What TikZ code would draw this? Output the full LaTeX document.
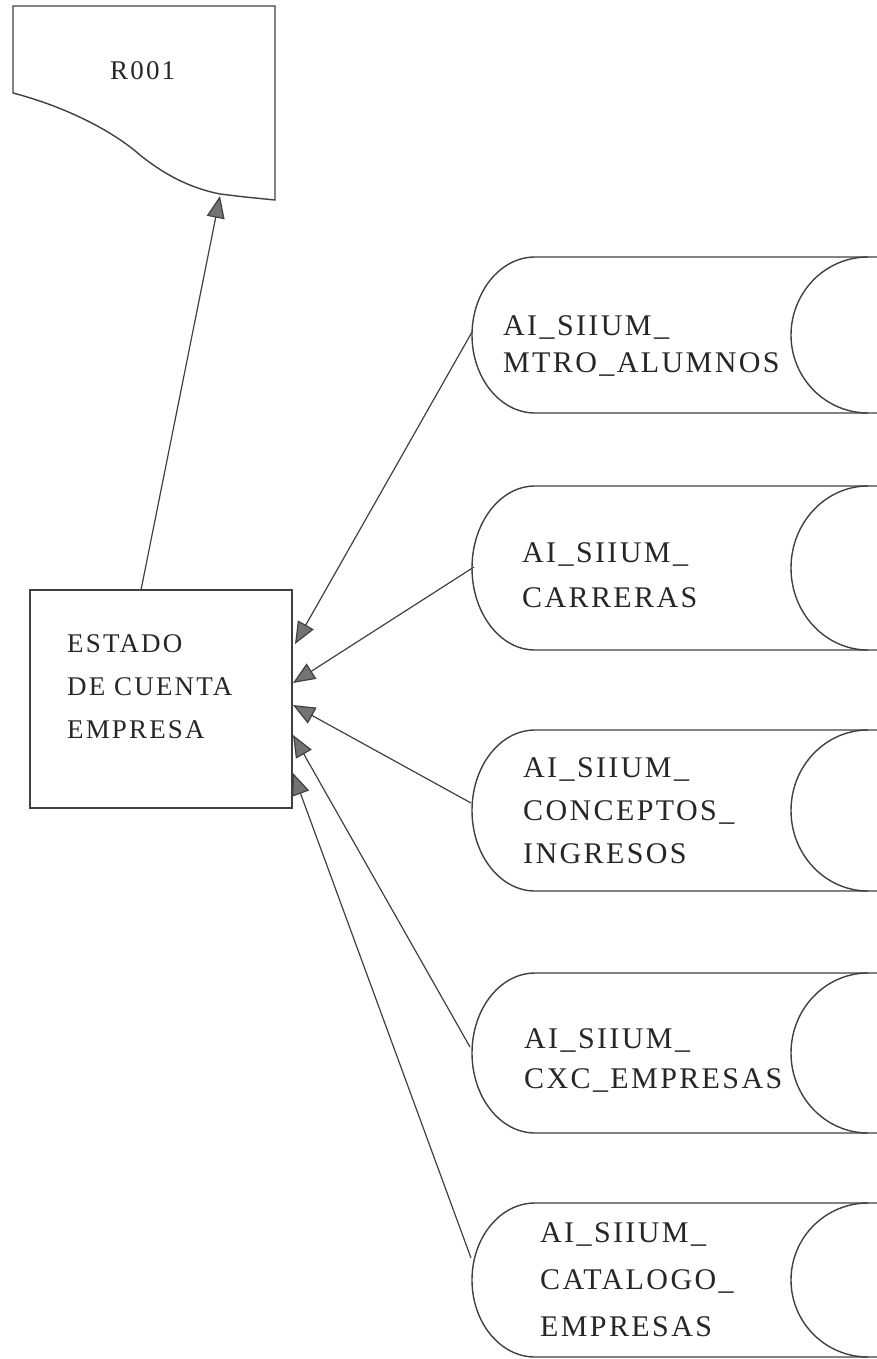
\documentclass[tikz,border=0pt]{standalone}
\usepackage{fontspec}
\setmainfont{Liberation Serif}[LetterSpace=8]
\usetikzlibrary{arrows.meta}
\newcommand\dstore[2]{%
  \draw[ln] (877,#1) -- (535,#1) arc[start angle=270,end angle=90,x radius=63,y radius=#2] -- (877,{#1+2*#2});
  \draw[ln] (868,#1) arc[start angle=270,end angle=90,x radius=77,y radius=#2];
}
\begin{document}
\begin{tikzpicture}[x=1pt,y=-1pt,
  ln/.style={draw=black!75, line width=1.4pt},
  arr/.style={draw=black!75, line width=1.2pt, -{Triangle[length=22pt,width=18pt,fill=black!55]}},
  lbl/.style={anchor=base west, align=left, text=black!85, inner sep=0pt},
  cyltext/.style={lbl, font=\fontsize{30}{#1}\selectfont}]
\useasboundingbox (0,0) rectangle (877,1359);
% document R001
\draw[ln] (13,6) -- (275,6) -- (275,200) -- (245,197) -- (220,194)
  .. controls (190,188) and (165,175) .. (140,155)
  .. controls (115,133) and (70,108) .. (13,93) -- cycle;
\node[lbl, font=\fontsize{27}{30}\selectfont] (doc) at (110,80) {R001};
\coordinate (docin) at (220,196);
% process box
\node[ln, draw, rectangle, minimum width=262pt, minimum height=218pt, inner sep=0pt] (est) at (161,699) {};
\node[lbl, font=\fontsize{27}{43}\selectfont] (esttext) at (67,738) {ESTADO\\DE CUENTA\\EMPRESA};
\coordinate (e0) at (141,590);
\coordinate (t1) at (295,644);
\coordinate (t2) at (293,683);
\coordinate (t3) at (293,705);
\coordinate (t4) at (293,735);
\coordinate (t5) at (293,773);
% data stores
\dstore{257}{78}
\dstore{486}{82}
\dstore{730}{80.5}
\dstore{973}{80}
\dstore{1203}{77}
\node[cyltext=37] (s1) at (503,372) {AI\_SIIUM\_\\MTRO\_ALUMNOS};
\node[cyltext=45] (s2) at (522,607) {AI\_SIIUM\_\\CARRERAS};
\node[cyltext=43] (s3) at (523,863) {AI\_SIIUM\_\\CONCEPTOS\_\\INGRESOS};
\node[cyltext=40] (s4) at (524,1088) {AI\_SIIUM\_\\CXC\_EMPRESAS};
\node[cyltext=47] (s5) at (540,1336) {AI\_SIIUM\_\\CATALOGO\_\\EMPRESAS};
\coordinate (c1) at (472,332);
\coordinate (c2) at (474,567);
\coordinate (c3) at (471,803);
\coordinate (c4) at (470,1047);
\coordinate (c5) at (471,1258);
% connectors
\draw[arr] (e0) -- (docin);
\draw[arr] (c1) -- (t1);
\draw[arr] (c2) -- (t2);
\draw[arr] (c3) -- (t3);
\draw[arr] (c4) -- (t4);
\draw[arr] (c5) -- (t5);
\end{tikzpicture}
\end{document}
